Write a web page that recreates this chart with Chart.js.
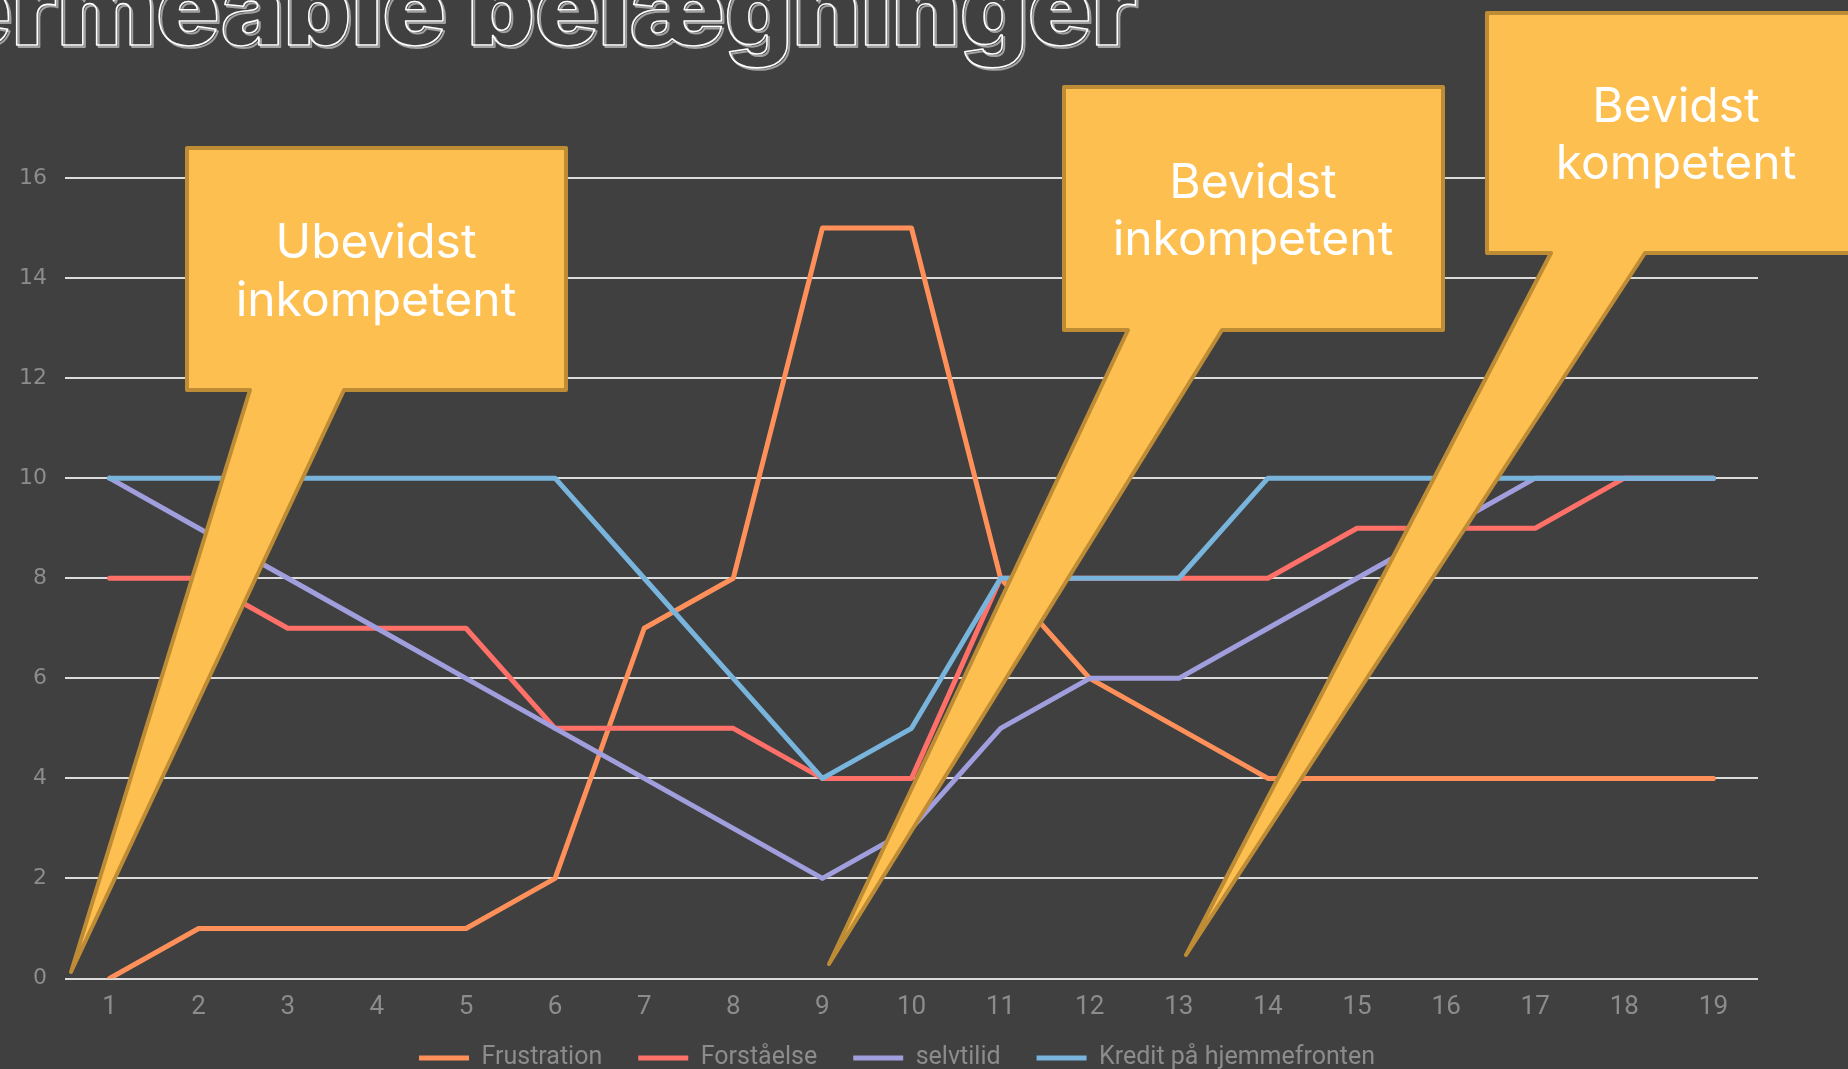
<!DOCTYPE html>
<html>
<head>
<meta charset="utf-8">
<script src="https://cdn.jsdelivr.net/npm/chart.js@4.4.1/dist/chart.umd.min.js"></script>
<style>
  html, body { margin: 0; padding: 0; background: #404040; overflow: hidden; }
  #wrap { position: relative; width: 1848px; height: 1069px; }
</style>
</head>
<body>
<div id="wrap"><canvas id="chart"></canvas></div>
<script>
// ── Data ─────────────────────────────────────────────────────────────────────
const labels      = ['1','2','3','4','5','6','7','8','9','10','11','12','13','14','15','16','17','18','19'];
const frustration = [0, 1, 1, 1, 1, 2, 7, 8, 15, 15, 8, 6, 5, 4, 4, 4, 4, 4, 4];
const forstaaelse = [8, 8, 7, 7, 7, 5, 5, 5, 4, 4, 8, 8, 8, 8, 9, 9, 9, 10, 10];
const selvtilid   = [10, 9, 8, 7, 6, 5, 4, 3, 2, 3, 5, 6, 6, 7, 8, 9, 10, 10, 10];
const kredit      = [10, 10, 10, 10, 10, 10, 8, 6, 4, 5, 8, 8, 8, 10, 10, 10, 10, 10, 10];
const yTicks      = [0, 2, 4, 6, 8, 10, 12, 14, 16];

const TITLE = 'Permeable belægninger';
const callouts = [
  { lines: ['Ubevidst', 'inkompetent'] },
  { lines: ['Bevidst', 'inkompetent'] },
  { lines: ['Bevidst', 'kompetent'] },
];

const BG    = '#404040';
const MUTED = '#8c8c8c';
const GRID  = '#dcdcdc';
const FILL  = '#fdbf50';
const EDGE  = '#bf8c36';

// ── Callout shapes (pixel layout, decoration only) ──────────────────────────
const calloutBoxes = [
  { l: 187,  t: 148, r: 566,  b: 390, tail: [250, 344],   tip: [71, 972],   tx: 376,  ty: [244, 302] },
  { l: 1064, t: 87,  r: 1443, b: 330, tail: [1128, 1222], tip: [829, 964],  tx: 1253, ty: [184, 241] },
  { l: 1487, t: 13,  r: 1870, b: 253, tail: [1551, 1645], tip: [1186, 955], tx: 1676, ty: [108, 165] },
];

const decorPlugin = {
  id: 'decor',
  afterLayout(chart) {
    // legend sits close under the tick labels, a bit right of centre, as on the slide
    const lg = chart.legend;
    lg.top -= 21;
    lg.bottom -= 21;
    lg.left += 18;
    lg.right += 18;
  },
  beforeDraw(chart) {
    const ctx = chart.ctx;
    ctx.save();
    ctx.fillStyle = BG;
    ctx.fillRect(0, 0, chart.width, chart.height);
    // outlined title, cut at the top-left like the slide
    ctx.font = "900 105px Inter";
    ctx.textAlign = 'right';
    ctx.textBaseline = 'alphabetic';
    ctx.lineJoin = 'round';
    ctx.strokeStyle = '#a0a0a0';
    ctx.lineWidth = 2;
    ctx.strokeText(TITLE, 1139, 47);
    ctx.strokeStyle = '#ffffff';
    ctx.lineWidth = 1.6;
    ctx.strokeText(TITLE, 1137, 45);
    ctx.restore();
  },
  afterDraw(chart) {
    const ctx = chart.ctx;
    ctx.save();
    calloutBoxes.forEach((c, i) => {
      ctx.beginPath();
      ctx.moveTo(c.l, c.t);
      ctx.lineTo(c.r, c.t);
      ctx.lineTo(c.r, c.b);
      ctx.lineTo(c.tail[1], c.b);
      ctx.lineTo(c.tip[0], c.tip[1]);
      ctx.lineTo(c.tail[0], c.b);
      ctx.lineTo(c.l, c.b);
      ctx.closePath();
      ctx.fillStyle = FILL;
      ctx.fill();
      ctx.lineJoin = 'round';
      ctx.lineWidth = 4;
      ctx.strokeStyle = EDGE;
      ctx.stroke();

      ctx.fillStyle = '#ffffff';
      ctx.font = "48px Inter";
      ctx.textAlign = 'center';
      ctx.textBaseline = 'middle';
      callouts[i].lines.forEach((txt, k) => ctx.fillText(txt, c.tx, c.ty[k]));
    });
    ctx.restore();
  },
};

function series(label, data, color, order) {
  return {
    label,
    data,
    borderColor: color,
    backgroundColor: color,
    borderWidth: 5,
    borderCapStyle: 'round',
    borderJoinStyle: 'round',
    pointRadius: 0,
    pointHoverRadius: 0,
    tension: 0,
    order,
  };
}

const canvas = document.getElementById('chart');
canvas.width = 1848;
canvas.height = 1069;

new Chart(canvas, {
  type: 'line',
  data: {
    labels,
    datasets: [
      series('Frustration', frustration, '#ff905a', 3),
      series('Forståelse', forstaaelse, '#ff7068', 2),
      series('selvtilid', selvtilid, '#a09edc', 1),
      series('Kredit på hjemmefronten', kredit, '#78b4dc', 0),
    ],
  },
  options: {
    responsive: false,
    animation: false,
    devicePixelRatio: 1,
    layout: { padding: { top: 178, right: 90, left: 0, bottom: -32.5 } },
    plugins: {
      tooltip: { enabled: false },
      legend: {
        position: 'bottom',
        labels: {
          color: MUTED,
          font: { family: 'Roboto', size: 25 },
          usePointStyle: true,
          pointStyle: 'line',
          pointStyleWidth: 50,
          padding: 36,
          sort: (a, b) => a.datasetIndex - b.datasetIndex,
        },
      },
    },
    scales: {
      x: {
        offset: true,
        grid: { display: false, drawTicks: false },
        border: { display: false },
        ticks: { color: MUTED, font: { family: 'Roboto', size: 26 }, padding: 13, maxRotation: 0 },
        afterFit: s => { s.height = 52; },
      },
      y: {
        min: 0,
        max: 16,
        afterFit: s => { s.width = 65; },
        afterBuildTicks: s => { s.ticks = yTicks.map(v => ({ value: v })); },
        grid: { color: GRID, lineWidth: 2, drawTicks: false },
        border: { display: false },
        ticks: { color: MUTED, font: { family: 'DejaVu Sans', size: 22 }, padding: 18 },
      },
    },
  },
  plugins: [decorPlugin],
});
</script>
</body>
</html>
